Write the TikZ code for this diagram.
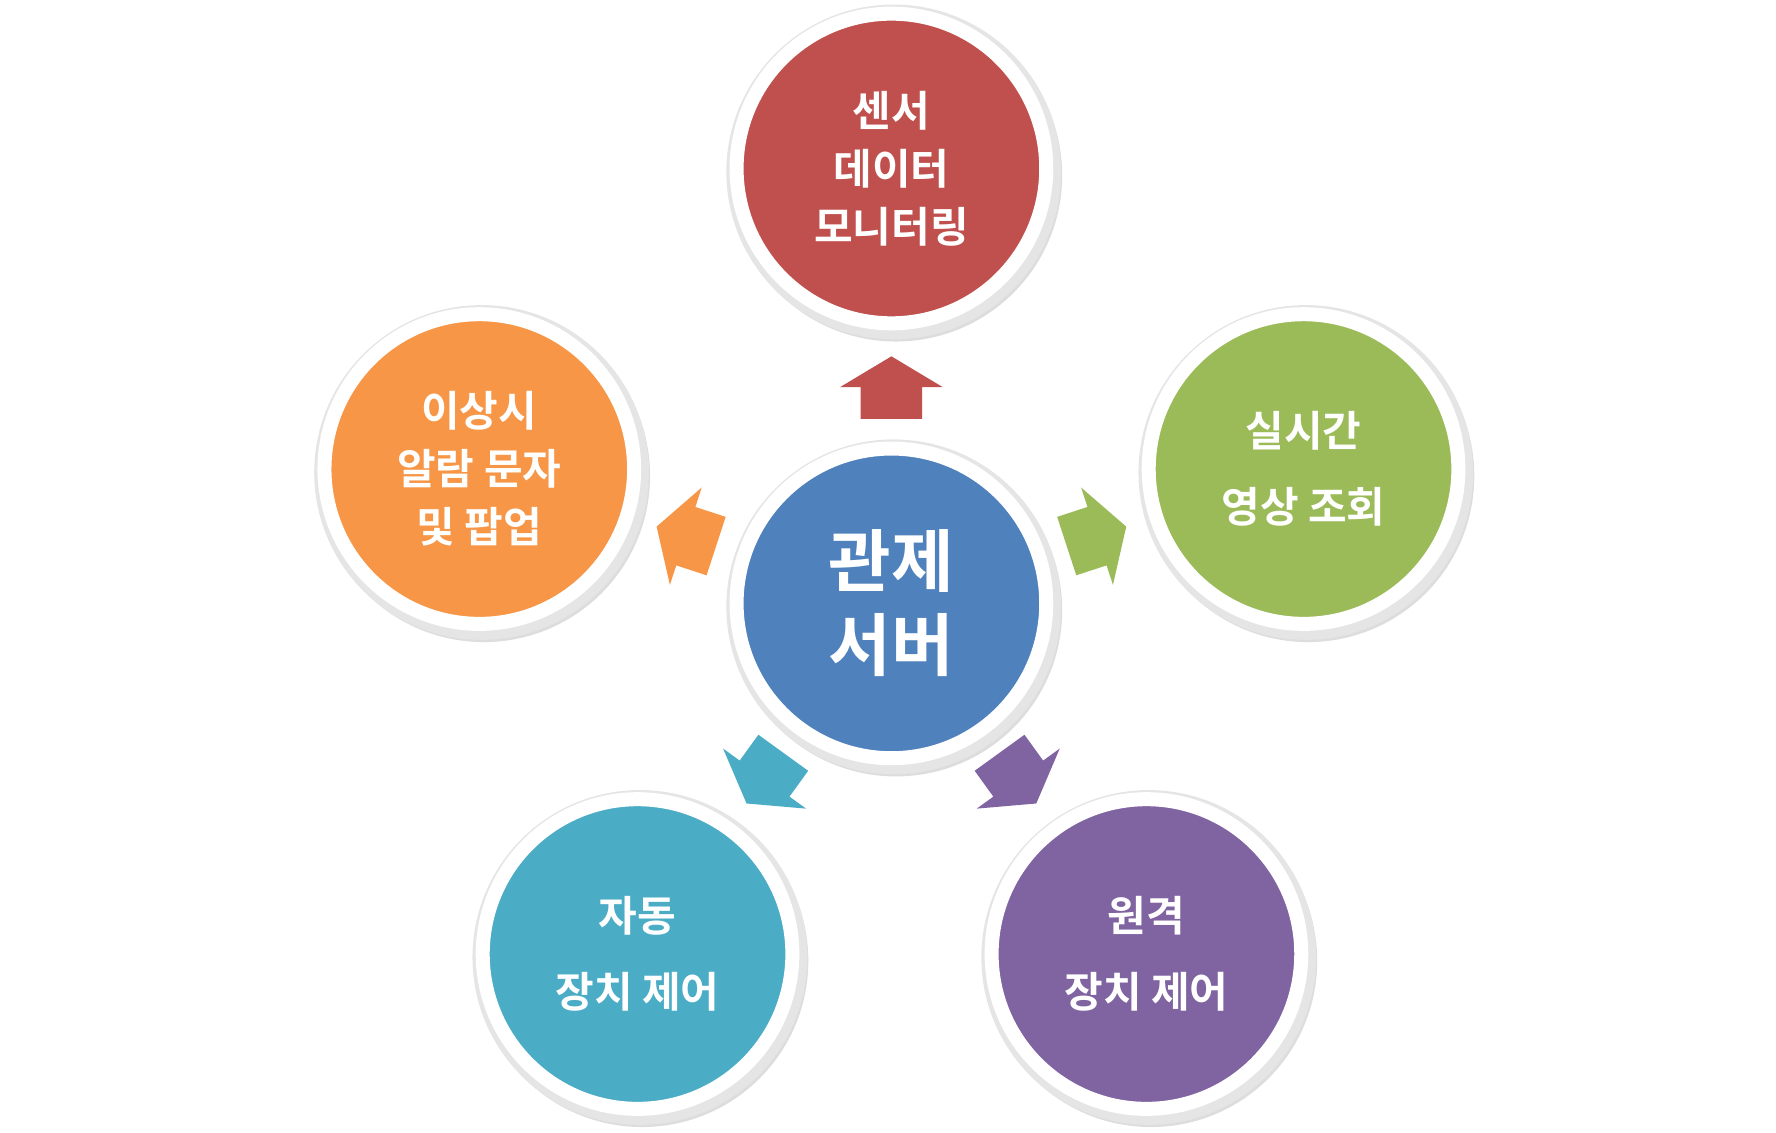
\documentclass[tikz,border=0pt]{standalone}
\usepackage{fontspec}
\setmainfont{Noto Sans CJK KR}[BoldFont={Noto Sans CJK KR Bold}]
\definecolor{cred}{HTML}{C0504D}
\definecolor{corange}{HTML}{F79646}
\definecolor{cgreen}{HTML}{9BBB59}
\definecolor{cblue}{HTML}{4F81BD}
\definecolor{ccyan}{HTML}{4BACC6}
\definecolor{cpurple}{HTML}{8064A2}
\begin{document}
\begin{tikzpicture}[x=0.02cm,y=0.02cm,
  ball/.style={circle,draw=white,line width=7pt,minimum size=272*0.02cm,inner sep=0pt,
    text=white,font=\bfseries\fontsize{21}{29}\selectfont,align=center},
  bigball/.style={ball,font=\bfseries\fontsize{34}{42}\selectfont},
  shade/.style={fill=black!22,opacity=0.6}]
\useasboundingbox (0,0) rectangle (1560,995);
\foreach \x/\y in {783/847,783/465,421/583,1145/583,560/157,1007/157}{
  \fill[shade] (\x+4,\y-6) circle (146);
  \fill[black!10] (\x+2,\y-3) circle (147);}
\node[ball,fill=cred] (top) at (783,847) {센서\\데이터\\모니터링};
\node[bigball,fill=cblue] (ctr) at (783,465) {관제\\서버};
\node[ball,fill=corange] (lft) at (421,583) {이상시\\알람 문자\\및 팝업};
\node[ball,fill=cgreen,font=\bfseries\fontsize{21}{38}\selectfont] (rgt) at (1145,583) {실시간\\영상 조회};
\node[ball,fill=ccyan,font=\bfseries\fontsize{21}{38}\selectfont] (bl) at (560,157) {자동\\장치 제어};
\node[ball,fill=cpurple,font=\bfseries\fontsize{21}{38}\selectfont] (br) at (1007,157) {원격\\장치 제어};
\foreach \a/\c in {90/cred,161.9/corange,18.1/cgreen,-125.9/ccyan,-54.1/cpurple}{
  \fill[\c,shift={(ctr.center)},rotate=\a]
    (162,-27)--(190,-27)--(190,-45)--(217,0)--(190,45)--(190,27)--(162,27)--cycle;}
\end{tikzpicture}
\end{document}
